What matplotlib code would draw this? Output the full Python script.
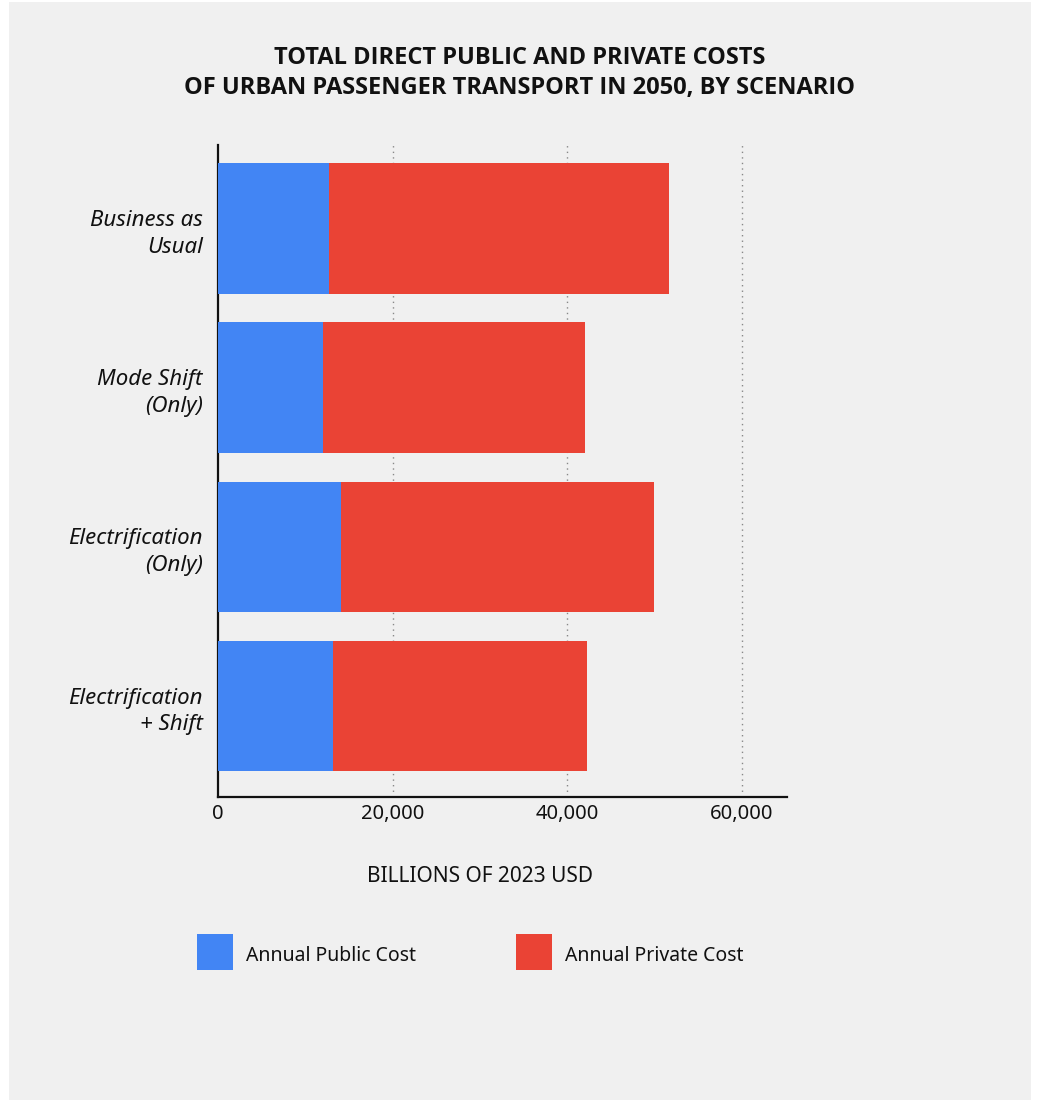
import matplotlib.pyplot as plt
from matplotlib.patches import Rectangle
from matplotlib.ticker import FuncFormatter

plt.rcParams['font.family'] = ['Noto Sans', 'DejaVu Sans']

scenarios = ["Business as\nUsual", "Mode Shift\n(Only)", "Electrification\n(Only)", "Electrification\n+ Shift"]
public_cost = [12700, 12050, 14100, 13200]
private_cost = [38950, 30000, 35850, 29100]
series_names = ["Annual Public Cost", "Annual Private Cost"]
xticks = [0, 20000, 40000, 60000]

BLUE = "#4285f4"
RED = "#ea4335"
PANEL = "#f0f0f0"
INK = "#111111"

fig = plt.figure(figsize=(10.39, 11.02), dpi=100, facecolor="white")
# grey card behind everything
fig.patches.append(Rectangle((9 / 1039, 1 - 1100 / 1102), 1022 / 1039, 1098 / 1102,
                             transform=fig.transFigure, facecolor=PANEL,
                             edgecolor="none", zorder=-10))

ax = fig.add_axes([218 / 1039, 1 - 797 / 1102, 569 / 1039, 652 / 1102])
ax.patch.set_alpha(0)

ypos = list(range(len(scenarios)))
ax.barh(ypos, public_cost, height=0.82, color=BLUE, zorder=3, label=series_names[0])
ax.barh(ypos, private_cost, left=public_cost, height=0.82, color=RED, zorder=3,
        label=series_names[1])

ax.set_xlim(0, 65200)
ax.set_ylim(3.571, -0.525)
ax.set_xticks(xticks)
ax.xaxis.set_major_formatter(FuncFormatter(lambda v, p: f"{int(v):,}"))
ax.set_yticks(ypos)
ax.set_yticklabels(scenarios, fontsize=16, style="italic", linespacing=1.35)
ax.tick_params(axis="both", length=0, colors=INK)
ax.tick_params(axis="x", labelsize=14.5, pad=5)
ax.tick_params(axis="y", pad=11)

for sp in ["top", "right"]:
    ax.spines[sp].set_visible(False)
for sp in ["left", "bottom"]:
    ax.spines[sp].set_linewidth(1.6)
    ax.spines[sp].set_color(INK)

ax.grid(axis="x", linestyle=(0, (1, 3)), color="#888888", linewidth=1.0, zorder=0)
ax.set_axisbelow(True)
ax.get_xgridlines()[0].set_visible(False)

fig.text(520 / 1039, 1 - 73 / 1102,
         "TOTAL DIRECT PUBLIC AND PRIVATE COSTS\nOF URBAN PASSENGER TRANSPORT IN 2050, BY SCENARIO",
         ha="center", va="center", fontsize=17, fontweight="bold", linespacing=1.3,
         color=INK, family=["Open Sans", "DejaVu Sans"])

fig.text(480 / 1039, 1 - 877 / 1102, "BILLIONS OF 2023 USD", ha="center", va="center",
         fontsize=15, color=INK)

# legend drawn by hand: square swatch then label
for x0, name, col in [(197, series_names[0], BLUE), (516, series_names[1], RED)]:
    fig.patches.append(Rectangle((x0 / 1039, 1 - 970 / 1102), 36 / 1039, 36 / 1102,
                                 transform=fig.transFigure, facecolor=col, edgecolor="none"))
    fig.text((x0 + 49) / 1039, 1 - 956 / 1102, name, ha="left", va="center",
             fontsize=14, color=INK)

fig.savefig("out.png", dpi=100, facecolor="white")
